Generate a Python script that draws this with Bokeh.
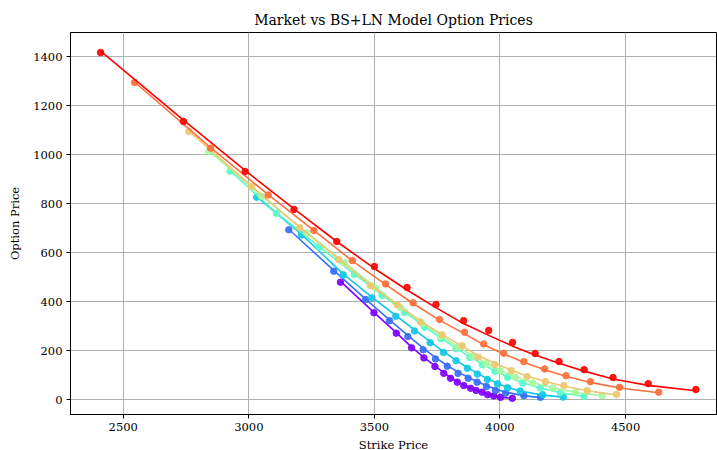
from bokeh.plotting import figure
from bokeh.models import FixedTicker, Range1d
from bokeh.embed import file_html
from bokeh.resources import INLINE

# ---- data ----
series_colors = ["#8000ff", "#376ff9", "#12c8e6", "#5bf9c8", "#a4f99f", "#edc76f", "#ff6f39", "#ff0000"]

purple_k = [3365, 3498, 3587, 3648, 3697, 3741, 3776, 3803, 3830, 3856, 3883, 3905, 3929, 3951, 3975, 4002, 4049]
purple_mkt = [479, 354, 271, 211, 170, 135, 107, 87, 71, 57, 46, 37, 30, 20, 15, 9, 5]
purple_mod = [482, 356, 273, 214, 172, 137, 110, 90, 73, 59, 47, 38, 30, 22, 16, 10, 4]

blue_k = [3159, 3338, 3465, 3560, 3633, 3694, 3743, 3790, 3833, 3873, 3909, 3946, 3982, 4022, 4095, 4161]
blue_mkt = [693, 524, 408, 322, 257, 203, 166, 136, 107, 87, 71, 53, 37, 26, 16, 9]
blue_mod = [695, 527, 410, 325, 262, 210, 171, 139, 112, 91, 73, 57, 43, 30, 16, 8]

cyan_k = [3031, 3210, 3376, 3490, 3585, 3660, 3722, 3775, 3825, 3870, 3910, 3950, 3990, 4030, 4080, 4170, 4252]
cyan_mkt = [826, 672, 509, 415, 340, 280, 232, 192, 158, 128, 104, 82, 64, 48, 35, 20, 10]
cyan_mod = [828, 674, 512, 418, 343, 284, 236, 196, 160, 131, 107, 85, 66, 50, 35, 18, 10]

aqua_k = [2925, 3110, 3280, 3420, 3530, 3620, 3700, 3765, 3825, 3880, 3930, 3980, 4030, 4090, 4160, 4240, 4335]
aqua_mkt = [932, 760, 622, 510, 425, 355, 295, 248, 208, 172, 142, 115, 90, 67, 47, 28, 13]
aqua_mod = [934, 762, 624, 512, 428, 358, 298, 251, 210, 174, 144, 117, 93, 69, 47, 28, 13]

green_k = [2841, 3050, 3230, 3380, 3505, 3605, 3690, 3765, 3830, 3890, 3945, 4000, 4060, 4130, 4210, 4300, 4407]
green_mkt = [1013, 830, 680, 558, 455, 375, 310, 258, 215, 178, 146, 118, 92, 68, 47, 29, 16]
green_mod = [1015, 832, 682, 560, 458, 378, 313, 260, 217, 180, 148, 120, 94, 70, 48, 30, 15]

tan_k = [2761, 3011, 3203, 3358, 3484, 3591, 3683, 3770, 3849, 3913, 3979, 4045, 4108, 4181, 4254, 4347, 4464]
tan_mkt = [1094, 869, 701, 571, 465, 387, 318, 264, 220, 173, 143, 118, 94, 73, 57, 37, 21]
tan_mod = [1096, 871, 703, 573, 468, 388, 320, 265, 218, 180, 148, 120, 96, 74, 55, 36, 19]

orange_k = [2545, 2848, 3077, 3259, 3412, 3544, 3654, 3759, 3859, 3935, 4015, 4095, 4178, 4263, 4360, 4476, 4632]
orange_mkt = [1294, 1026, 835, 690, 567, 472, 395, 327, 275, 227, 189, 155, 125, 97, 73, 50, 30]
orange_mod = [1296, 1028, 836, 690, 566, 470, 392, 324, 268, 224, 186, 152, 122, 95, 70, 47, 28]

red_k = [2410, 2740, 2985, 3180, 3350, 3500, 3630, 3745, 3855, 3955, 4050, 4140, 4235, 4335, 4450, 4590, 4780]
red_mkt = [1416, 1135, 931, 776, 645, 543, 457, 388, 322, 282, 233, 188, 155, 122, 90, 65, 41]
red_mod = [1422, 1140, 935, 778, 645, 535, 447, 375, 310, 262, 218, 182, 148, 116, 84, 58, 36]

x_ticks = [2500, 3000, 3500, 4000, 4500]
y_ticks = [0, 200, 400, 600, 800, 1000, 1200, 1400]

all_series = [
    (purple_k, purple_mkt, purple_mod),
    (blue_k, blue_mkt, blue_mod),
    (cyan_k, cyan_mkt, cyan_mod),
    (aqua_k, aqua_mkt, aqua_mod),
    (green_k, green_mkt, green_mod),
    (tan_k, tan_mkt, tan_mod),
    (orange_k, orange_mkt, orange_mod),
    (red_k, red_mkt, red_mod),
]

FONT = "DejaVu Serif"

p = figure(
    frame_width=646, frame_height=382,
    output_backend="svg", toolbar_location=None,
    x_range=Range1d(2290, 4862), y_range=Range1d(-61, 1498),
    min_border_left=70, min_border_right=1, min_border_top=32, min_border_bottom=36,
    title="Market vs BS+LN Model Option Prices",
)
p.background_fill_color = "white"
p.border_fill_color = "white"
p.outline_line_color = "black"
p.outline_line_width = 1
p.outline_line_alpha = 1

p.title.text_font = FONT
p.title.text_font_size = "14px"
p.title.text_font_style = "normal"
p.title.align = "center"
p.title.text_color = "black"

for ax in (p.xaxis[0], p.yaxis[0]):
    ax.axis_line_color = "black"
    ax.major_tick_line_color = "black"
    ax.major_tick_out = 4
    ax.major_tick_in = 0
    ax.minor_tick_line_color = None
    ax.major_label_text_font = FONT
    ax.major_label_text_font_size = "11.5px"
    ax.major_label_text_color = "black"
    ax.axis_label_text_font = FONT
    ax.axis_label_text_font_size = "11.5px"
    ax.axis_label_text_font_style = "normal"
    ax.axis_label_text_color = "black"
p.xaxis.ticker = FixedTicker(ticks=x_ticks)
p.yaxis.ticker = FixedTicker(ticks=y_ticks)
p.xaxis.axis_label = "Strike Price"
p.yaxis.axis_label = "Option Price"
p.xaxis.axis_label_standoff = 4
p.yaxis.axis_label_standoff = 8
p.xaxis.major_label_standoff = 4
p.yaxis.major_label_standoff = 4

p.xgrid.grid_line_color = "#b0b0b0"
p.ygrid.grid_line_color = "#b0b0b0"
p.xgrid.grid_line_width = 1
p.ygrid.grid_line_width = 1

for (k, mkt, mod), col in zip(all_series, series_colors):
    p.scatter(k, mkt, size=6.5, fill_color=col, line_color=col, fill_alpha=0.9, line_alpha=0.9)
    p.line(k, mod, line_color=col, line_width=1.6)

open("out.html", "w").write(file_html(p, INLINE))
